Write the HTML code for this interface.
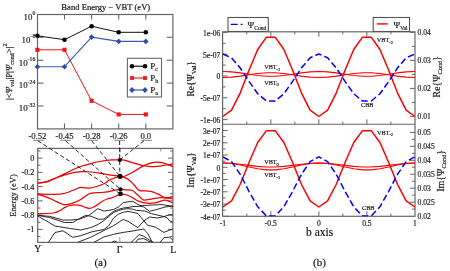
<!DOCTYPE html>
<html><head><meta charset="utf-8"><style>
html,body{margin:0;padding:0;background:#fff;}
svg{display:block;will-change:transform;} text{stroke:#222;stroke-width:0.18px;}
</style></head><body>
<svg width="450" height="271" viewBox="0 0 450 271">
<rect width="450" height="271" fill="#fff"/>
<rect x="37.5" y="14.5" width="135.40" height="114.40" fill="none" stroke="#666" stroke-width="1.2"/>
<line x1="64.50" y1="14.50" x2="64.50" y2="19.50" stroke="#666" stroke-width="1.1" />
<line x1="64.50" y1="128.90" x2="64.50" y2="123.40" stroke="#666" stroke-width="1.1" />
<line x1="91.60" y1="14.50" x2="91.60" y2="19.50" stroke="#666" stroke-width="1.1" />
<line x1="91.60" y1="128.90" x2="91.60" y2="123.40" stroke="#666" stroke-width="1.1" />
<line x1="118.70" y1="14.50" x2="118.70" y2="19.50" stroke="#666" stroke-width="1.1" />
<line x1="118.70" y1="128.90" x2="118.70" y2="123.40" stroke="#666" stroke-width="1.1" />
<line x1="145.80" y1="14.50" x2="145.80" y2="19.50" stroke="#666" stroke-width="1.1" />
<line x1="145.80" y1="128.90" x2="145.80" y2="123.40" stroke="#666" stroke-width="1.1" />
<line x1="37.50" y1="37.30" x2="43.50" y2="37.30" stroke="#666" stroke-width="1.1" />
<line x1="172.90" y1="37.30" x2="166.90" y2="37.30" stroke="#666" stroke-width="1.1" />
<line x1="37.50" y1="60.20" x2="43.50" y2="60.20" stroke="#666" stroke-width="1.1" />
<line x1="172.90" y1="60.20" x2="166.90" y2="60.20" stroke="#666" stroke-width="1.1" />
<line x1="37.50" y1="83.10" x2="43.50" y2="83.10" stroke="#666" stroke-width="1.1" />
<line x1="172.90" y1="83.10" x2="166.90" y2="83.10" stroke="#666" stroke-width="1.1" />
<line x1="37.50" y1="106.00" x2="43.50" y2="106.00" stroke="#666" stroke-width="1.1" />
<line x1="172.90" y1="106.00" x2="166.90" y2="106.00" stroke="#666" stroke-width="1.1" />
<text x="35.3" y="19.70" font-size="8.9" text-anchor="end" style="font-family:&quot;Liberation Serif&quot;,serif" fill="#222">10<tspan dy="-4.4" font-size="5.8">0</tspan></text>
<text x="35.3" y="42.60" font-size="8.9" text-anchor="end" style="font-family:&quot;Liberation Serif&quot;,serif" fill="#222">10<tspan dy="-4.4" font-size="5.8">-8</tspan></text>
<text x="35.3" y="65.50" font-size="8.9" text-anchor="end" style="font-family:&quot;Liberation Serif&quot;,serif" fill="#222">10<tspan dy="-4.4" font-size="5.8">-16</tspan></text>
<text x="35.3" y="88.40" font-size="8.9" text-anchor="end" style="font-family:&quot;Liberation Serif&quot;,serif" fill="#222">10<tspan dy="-4.4" font-size="5.8">-24</tspan></text>
<text x="35.3" y="111.30" font-size="8.9" text-anchor="end" style="font-family:&quot;Liberation Serif&quot;,serif" fill="#222">10<tspan dy="-4.4" font-size="5.8">-32</tspan></text>
<text x="105.80" y="10.20" font-size="8.6" text-anchor="middle" style="font-family:&quot;Liberation Serif&quot;,serif" fill="#111" >Band Energy &#8722; VBT (eV)</text>
<polyline points="37.40,49.80 64.50,49.80 91.60,100.80 118.70,114.40 145.80,114.40" fill="none" stroke="#f01414" stroke-width="1.0" stroke-linejoin="round" />
<polyline points="37.40,66.70 64.50,66.70 91.60,37.10 118.70,41.40 145.80,41.40" fill="none" stroke="#3a5bb0" stroke-width="1.1" stroke-linejoin="round" />
<polyline points="37.40,35.80 64.50,39.70 91.60,26.20 118.70,32.30 145.80,32.30" fill="none" stroke="#111" stroke-width="1.0" stroke-linejoin="round" />
<rect x="35.35" y="47.75" width="4.1" height="4.1" fill="#f01414"/>
<path d="M34.60,66.70 L37.40,63.90 L40.20,66.70 L37.40,69.50Z" fill="#2d4fae"/>
<circle cx="37.40" cy="35.80" r="2.3" fill="#000"/>
<rect x="62.45" y="47.75" width="4.1" height="4.1" fill="#f01414"/>
<path d="M61.70,66.70 L64.50,63.90 L67.30,66.70 L64.50,69.50Z" fill="#2d4fae"/>
<circle cx="64.50" cy="39.70" r="2.3" fill="#000"/>
<rect x="89.55" y="98.75" width="4.1" height="4.1" fill="#f01414"/>
<path d="M88.80,37.10 L91.60,34.30 L94.40,37.10 L91.60,39.90Z" fill="#2d4fae"/>
<circle cx="91.60" cy="26.20" r="2.3" fill="#000"/>
<rect x="116.65" y="112.35" width="4.1" height="4.1" fill="#f01414"/>
<path d="M115.90,41.40 L118.70,38.60 L121.50,41.40 L118.70,44.20Z" fill="#2d4fae"/>
<circle cx="118.70" cy="32.30" r="2.3" fill="#000"/>
<rect x="143.75" y="112.35" width="4.1" height="4.1" fill="#f01414"/>
<path d="M143.00,41.40 L145.80,38.60 L148.60,41.40 L145.80,44.20Z" fill="#2d4fae"/>
<circle cx="145.80" cy="32.30" r="2.3" fill="#000"/>
<rect x="127.4" y="58.3" width="34.1" height="38.7" fill="#fff" stroke="#6a6a6a" stroke-width="1.1"/>
<line x1="132.00" y1="66.20" x2="145.00" y2="66.20" stroke="#000" stroke-width="1.1" />
<circle cx="132" cy="66.2" r="2.3" fill="#000"/><circle cx="145" cy="66.2" r="2.3" fill="#000"/>
<text x="150.3" y="69.4" font-size="9" style="font-family:&quot;Liberation Serif&quot;,serif" fill="#111">P<tspan dy="2" font-size="6">c</tspan></text>
<line x1="132.00" y1="78.00" x2="145.00" y2="78.00" stroke="#f01414" stroke-width="1.1" />
<rect x="130.1" y="76.1" width="3.8" height="3.8" fill="#f01414"/><rect x="143.1" y="76.1" width="3.8" height="3.8" fill="#f01414"/>
<text x="150.3" y="81.2" font-size="9" style="font-family:&quot;Liberation Serif&quot;,serif" fill="#111">P<tspan dy="2" font-size="6">b</tspan></text>
<line x1="132.00" y1="90.00" x2="145.00" y2="90.00" stroke="#2d4fae" stroke-width="1.1" />
<path d="M129.1,90.0 L132,87.1 L134.9,90.0 L132,92.9Z" fill="#2d4fae"/>
<path d="M142.1,90.0 L145,87.1 L147.9,90.0 L145,92.9Z" fill="#2d4fae"/>
<text x="150.3" y="93.2" font-size="9" style="font-family:&quot;Liberation Serif&quot;,serif" fill="#111">P<tspan dy="2" font-size="6">a</tspan></text>
<text transform="translate(11.7,71.7) rotate(-90)" font-size="8.9" text-anchor="middle" style="font-family:&quot;Liberation Serif&quot;,serif" fill="#111">|&lt;<tspan font-style="italic">&#936;</tspan><tspan dy="2.3" font-size="6">val</tspan><tspan dy="-2.3">|P|</tspan><tspan font-style="italic">&#936;</tspan><tspan dy="2.3" font-size="6">cond</tspan><tspan dy="-2.3">&gt;|</tspan><tspan dy="-4.6" font-size="6">2</tspan></text>
<text x="37.40" y="139.20" font-size="8.6" text-anchor="middle" style="font-family:&quot;Liberation Serif&quot;,serif" fill="#222" >-0.52</text>
<line x1="33.10" y1="140.30" x2="43.70" y2="140.30" stroke="#777" stroke-width="0.9" />
<text x="64.50" y="139.20" font-size="8.6" text-anchor="middle" style="font-family:&quot;Liberation Serif&quot;,serif" fill="#222" >-0.45</text>
<line x1="60.20" y1="140.30" x2="70.80" y2="140.30" stroke="#777" stroke-width="0.9" />
<text x="91.60" y="139.20" font-size="8.6" text-anchor="middle" style="font-family:&quot;Liberation Serif&quot;,serif" fill="#222" >-0.28</text>
<line x1="87.30" y1="140.30" x2="97.90" y2="140.30" stroke="#777" stroke-width="0.9" />
<text x="118.70" y="139.20" font-size="8.6" text-anchor="middle" style="font-family:&quot;Liberation Serif&quot;,serif" fill="#222" >-0.26</text>
<line x1="114.40" y1="140.30" x2="125.00" y2="140.30" stroke="#777" stroke-width="0.9" />
<text x="145.80" y="139.20" font-size="8.6" text-anchor="middle" style="font-family:&quot;Liberation Serif&quot;,serif" fill="#222" >0.0</text>
<line x1="141.50" y1="140.30" x2="152.10" y2="140.30" stroke="#777" stroke-width="0.9" />
<rect x="37.7" y="148.4" width="135.20" height="94.00" fill="none" stroke="#666" stroke-width="1.2"/>
<line x1="37.70" y1="150.97" x2="40.50" y2="150.97" stroke="#666" stroke-width="1.0" />
<line x1="172.90" y1="150.97" x2="170.10" y2="150.97" stroke="#666" stroke-width="1.0" />
<line x1="37.70" y1="158.10" x2="42.70" y2="158.10" stroke="#666" stroke-width="1.0" />
<line x1="172.90" y1="158.10" x2="167.90" y2="158.10" stroke="#666" stroke-width="1.0" />
<line x1="37.70" y1="165.23" x2="40.50" y2="165.23" stroke="#666" stroke-width="1.0" />
<line x1="172.90" y1="165.23" x2="170.10" y2="165.23" stroke="#666" stroke-width="1.0" />
<line x1="37.70" y1="172.36" x2="42.70" y2="172.36" stroke="#666" stroke-width="1.0" />
<line x1="172.90" y1="172.36" x2="167.90" y2="172.36" stroke="#666" stroke-width="1.0" />
<line x1="37.70" y1="179.49" x2="40.50" y2="179.49" stroke="#666" stroke-width="1.0" />
<line x1="172.90" y1="179.49" x2="170.10" y2="179.49" stroke="#666" stroke-width="1.0" />
<line x1="37.70" y1="186.62" x2="42.70" y2="186.62" stroke="#666" stroke-width="1.0" />
<line x1="172.90" y1="186.62" x2="167.90" y2="186.62" stroke="#666" stroke-width="1.0" />
<line x1="37.70" y1="193.75" x2="40.50" y2="193.75" stroke="#666" stroke-width="1.0" />
<line x1="172.90" y1="193.75" x2="170.10" y2="193.75" stroke="#666" stroke-width="1.0" />
<line x1="37.70" y1="200.88" x2="42.70" y2="200.88" stroke="#666" stroke-width="1.0" />
<line x1="172.90" y1="200.88" x2="167.90" y2="200.88" stroke="#666" stroke-width="1.0" />
<line x1="37.70" y1="208.01" x2="40.50" y2="208.01" stroke="#666" stroke-width="1.0" />
<line x1="172.90" y1="208.01" x2="170.10" y2="208.01" stroke="#666" stroke-width="1.0" />
<line x1="37.70" y1="215.14" x2="42.70" y2="215.14" stroke="#666" stroke-width="1.0" />
<line x1="172.90" y1="215.14" x2="167.90" y2="215.14" stroke="#666" stroke-width="1.0" />
<line x1="37.70" y1="222.27" x2="40.50" y2="222.27" stroke="#666" stroke-width="1.0" />
<line x1="172.90" y1="222.27" x2="170.10" y2="222.27" stroke="#666" stroke-width="1.0" />
<line x1="37.70" y1="229.40" x2="42.70" y2="229.40" stroke="#666" stroke-width="1.0" />
<line x1="172.90" y1="229.40" x2="167.90" y2="229.40" stroke="#666" stroke-width="1.0" />
<line x1="37.70" y1="236.53" x2="40.50" y2="236.53" stroke="#666" stroke-width="1.0" />
<line x1="172.90" y1="236.53" x2="170.10" y2="236.53" stroke="#666" stroke-width="1.0" />
<line x1="120.00" y1="148.40" x2="120.00" y2="152.40" stroke="#666" stroke-width="1.0" />
<line x1="119.80" y1="242.40" x2="119.80" y2="236.80" stroke="#999" stroke-width="1.0" />
<line x1="160.90" y1="148.40" x2="160.90" y2="151.40" stroke="#666" stroke-width="0.8" />
<text x="34.40" y="161.10" font-size="8.2" text-anchor="end" style="font-family:&quot;Liberation Serif&quot;,serif" fill="#222" >0</text>
<text x="34.40" y="175.36" font-size="8.2" text-anchor="end" style="font-family:&quot;Liberation Serif&quot;,serif" fill="#222" >-0.2</text>
<text x="34.40" y="189.62" font-size="8.2" text-anchor="end" style="font-family:&quot;Liberation Serif&quot;,serif" fill="#222" >-0.4</text>
<text x="34.40" y="203.88" font-size="8.2" text-anchor="end" style="font-family:&quot;Liberation Serif&quot;,serif" fill="#222" >-0.6</text>
<text x="34.40" y="218.14" font-size="8.2" text-anchor="end" style="font-family:&quot;Liberation Serif&quot;,serif" fill="#222" >-0.8</text>
<text x="34.40" y="232.40" font-size="8.2" text-anchor="end" style="font-family:&quot;Liberation Serif&quot;,serif" fill="#222" >-1</text>
<text transform="translate(16.2,195.5) rotate(-90)" font-size="8.6" text-anchor="middle" style="font-family:&quot;Liberation Serif&quot;,serif" fill="#111">Energy (eV)</text>
<text x="37.70" y="252.40" font-size="9.8" text-anchor="middle" style="font-family:&quot;Liberation Serif&quot;,serif" fill="#111" >Y</text>
<text x="119.60" y="252.60" font-size="9.8" text-anchor="middle" style="font-family:&quot;Liberation Serif&quot;,serif" fill="#111" >&#915;</text>
<text x="173.30" y="252.50" font-size="9.8" text-anchor="middle" style="font-family:&quot;Liberation Serif&quot;,serif" fill="#111" >L</text>
<text x="100.50" y="265.60" font-size="11" text-anchor="middle" style="font-family:&quot;Liberation Serif&quot;,serif" fill="#111" >(a)</text>
<clipPath id="cbl"><rect x="37.7" y="148.4" width="135.2" height="94.0"/></clipPath>
<g clip-path="url(#cbl)">
<polyline points="37.70,215.30 49.50,216.30 63.30,220.10 71.00,220.00 79.20,219.30 89.00,215.40 97.60,208.70 104.00,211.00 108.80,210.40 113.60,209.40 118.40,207.00 123.20,202.70 128.00,201.80 132.80,201.30 136.60,203.70 140.00,205.50 142.80,205.50 152.40,205.00 162.00,204.60 172.90,206.30" fill="none" stroke="#2a2a2a" stroke-width="1.0" stroke-linejoin="round" />
<polyline points="37.70,215.30 49.50,217.50 64.60,222.50 72.70,222.50 79.20,218.70 85.70,215.40 90.60,216.20 98.70,219.30 104.00,219.00 108.80,215.20 113.60,211.40 118.40,209.40 123.20,208.00 128.00,207.50 132.80,206.60 140.00,206.30 143.80,207.00 149.50,211.30 157.20,209.40 164.90,207.00 172.90,206.00" fill="none" stroke="#2a2a2a" stroke-width="1.0" stroke-linejoin="round" />
<polyline points="37.70,216.00 46.70,221.10 54.90,226.00 69.50,228.40 80.80,230.00 90.60,227.60 98.00,224.50 104.00,220.50 108.80,216.40 113.60,212.50 118.40,210.60 123.20,209.20 128.00,208.70 132.80,209.20 136.60,210.40 140.00,210.60 144.70,211.00 151.40,213.70 162.00,216.10 166.80,217.50 169.70,220.90 172.90,222.30" fill="none" stroke="#2a2a2a" stroke-width="1.0" stroke-linejoin="round" />
<polyline points="48.40,242.40 54.90,232.50 63.00,230.80 72.70,237.30 80.80,235.70 92.20,231.70 104.00,229.50 108.80,225.70 113.60,218.00 118.40,214.20 123.20,212.30 128.00,211.40 132.80,212.30 138.00,213.50 143.80,220.90 147.60,225.20 155.30,227.10 163.90,232.40 168.70,230.50 172.90,229.00" fill="none" stroke="#2a2a2a" stroke-width="1.0" stroke-linejoin="round" />
<polyline points="77.60,242.40 90.60,237.30 104.00,230.50 113.60,225.70 123.20,219.40 129.00,221.80 134.70,225.70 138.00,227.60 143.80,220.90 149.50,217.00 157.20,218.00 163.90,216.60 169.70,214.60 172.90,215.00" fill="none" stroke="#2a2a2a" stroke-width="1.0" stroke-linejoin="round" />
<polyline points="93.80,242.40 104.00,236.90 113.60,234.30 123.20,232.40 132.80,231.00 138.00,230.00 143.80,229.00 147.60,233.40 152.40,242.40" fill="none" stroke="#2a2a2a" stroke-width="1.0" stroke-linejoin="round" />
<polyline points="130.90,242.40 135.70,238.20 139.00,234.60 143.80,236.20 149.50,240.10 153.40,242.40" fill="none" stroke="#2a2a2a" stroke-width="1.0" stroke-linejoin="round" />
<polyline points="135.70,242.40 138.00,239.10 143.80,238.60 147.60,240.60 151.40,242.40" fill="none" stroke="#2a2a2a" stroke-width="1.0" stroke-linejoin="round" />
<polyline points="160.10,242.40 163.90,237.70 169.70,237.20 172.90,240.10" fill="none" stroke="#2a2a2a" stroke-width="1.0" stroke-linejoin="round" />
<polyline points="111.20,242.60 114.60,241.00 117.80,242.60" fill="none" stroke="#2a2a2a" stroke-width="1.0" stroke-linejoin="round" />
<path d="M37.60,183.00 C39.17,182.77 43.50,182.63 47.00,181.60 C50.50,180.57 54.73,178.57 58.60,176.80 C62.47,175.03 66.30,172.80 70.20,171.00 C74.10,169.20 78.37,167.28 82.00,166.00 C85.63,164.72 89.00,164.05 92.00,163.30 C95.00,162.55 96.72,162.07 100.00,161.50 C103.28,160.93 108.42,160.15 111.70,159.90 C114.98,159.65 117.65,159.95 119.70,160.00 C121.75,160.05 121.80,159.73 124.00,160.20 C126.20,160.67 129.93,161.93 132.90,162.80 C135.87,163.67 139.22,164.82 141.80,165.40 C144.38,165.98 145.82,166.13 148.40,166.30 C150.98,166.47 154.33,166.62 157.30,166.40 C160.27,166.18 163.60,165.42 166.20,165.00 C168.80,164.58 171.78,164.08 172.90,163.90" fill="none" stroke="#f00000" stroke-width="1.25" stroke-linejoin="round" />
<path d="M37.60,183.00 C39.17,182.77 43.50,182.63 47.00,181.60 C50.50,180.57 54.73,178.18 58.60,176.80 C62.47,175.42 66.30,174.17 70.20,173.30 C74.10,172.43 78.37,171.82 82.00,171.60 C85.63,171.38 88.58,171.65 92.00,172.00 C95.42,172.35 99.33,173.17 102.50,173.70 C105.67,174.23 108.08,174.77 111.00,175.20 C113.92,175.63 117.83,176.08 120.00,176.30 C122.17,176.52 122.22,177.00 124.00,176.50 C125.78,176.00 128.48,174.48 130.70,173.30 C132.92,172.12 135.08,170.68 137.30,169.40 C139.52,168.12 141.77,166.65 144.00,165.60 C146.23,164.55 148.48,163.67 150.70,163.10 C152.92,162.53 155.08,162.20 157.30,162.20 C159.52,162.20 161.40,162.35 164.00,163.10 C166.60,163.85 171.42,166.10 172.90,166.70" fill="none" stroke="#f00000" stroke-width="1.25" stroke-linejoin="round" />
<path d="M37.60,194.20 C39.67,194.22 45.95,194.35 50.00,194.30 C54.05,194.25 58.53,194.37 61.90,193.90 C65.27,193.43 67.85,192.32 70.20,191.50 C72.55,190.68 74.17,189.68 76.00,189.00 C77.83,188.32 79.03,187.53 81.20,187.40 C83.37,187.27 86.43,188.35 89.00,188.20 C91.57,188.05 93.93,187.33 96.60,186.50 C99.27,185.67 102.77,184.32 105.00,183.20 C107.23,182.08 107.57,180.93 110.00,179.80 C112.43,178.67 117.27,176.80 119.60,176.40 C121.93,176.00 122.42,176.80 124.00,177.40 C125.58,178.00 127.33,178.65 129.10,180.00 C130.87,181.35 132.95,183.78 134.60,185.50 C136.25,187.22 136.77,189.37 139.00,190.30 C141.23,191.23 145.75,190.83 148.00,191.10 C150.25,191.37 150.70,191.35 152.50,191.90 C154.30,192.45 156.92,193.48 158.80,194.40 C160.68,195.32 162.12,196.87 163.80,197.40 C165.48,197.93 167.42,197.78 168.90,197.60 C170.38,197.42 172.07,196.52 172.70,196.30" fill="none" stroke="#f00000" stroke-width="1.25" stroke-linejoin="round" />
<path d="M37.60,194.30 C38.83,194.68 42.40,195.65 45.00,196.60 C47.60,197.55 50.70,198.90 53.20,200.00 C55.70,201.10 58.10,202.43 60.00,203.20 C61.90,203.97 62.60,204.58 64.60,204.60 C66.60,204.62 69.30,204.15 72.00,203.30 C74.70,202.45 78.08,201.02 80.80,199.50 C83.52,197.98 85.93,195.32 88.30,194.20 C90.67,193.08 92.78,193.08 95.00,192.80 C97.22,192.52 99.10,192.75 101.60,192.50 C104.10,192.25 106.88,191.83 110.00,191.30 C113.12,190.77 117.63,189.55 120.30,189.30 C122.97,189.05 123.98,189.60 126.00,189.80 C128.02,190.00 130.60,189.77 132.40,190.50 C134.20,191.23 135.53,193.13 136.80,194.20 C138.07,195.27 138.83,195.92 140.00,196.90 C141.17,197.88 141.72,199.78 143.80,200.10 C145.88,200.42 149.58,199.22 152.50,198.80 C155.42,198.38 158.57,197.70 161.30,197.60 C164.03,197.50 167.00,198.00 168.90,198.20 C170.80,198.40 172.07,198.70 172.70,198.80" fill="none" stroke="#f00000" stroke-width="1.25" stroke-linejoin="round" />
<path d="M37.60,213.60 C40.20,213.50 49.47,213.52 53.20,213.00 C56.93,212.48 58.10,211.40 60.00,210.50 C61.90,209.60 62.93,208.43 64.60,207.60 C66.27,206.77 68.10,205.95 70.00,205.50 C71.90,205.05 74.20,204.87 76.00,204.90 C77.80,204.93 78.63,205.13 80.80,205.70 C82.97,206.27 86.63,208.20 89.00,208.30 C91.37,208.40 92.90,207.38 95.00,206.30 C97.10,205.22 99.60,203.02 101.60,201.80 C103.60,200.58 105.07,199.75 107.00,199.00 C108.93,198.25 110.98,198.08 113.20,197.30 C115.42,196.52 118.02,194.68 120.30,194.30 C122.58,193.92 124.88,194.43 126.90,195.00 C128.92,195.57 130.38,196.63 132.40,197.70 C134.42,198.77 136.48,200.48 139.00,201.40 C141.52,202.32 144.62,203.00 147.50,203.20 C150.38,203.40 153.37,203.12 156.30,202.60 C159.23,202.08 162.37,200.03 165.10,200.10 C167.83,200.17 171.43,202.52 172.70,203.00" fill="none" stroke="#f00000" stroke-width="1.25" stroke-linejoin="round" />
</g>
<circle cx="119.7" cy="160.0" r="2.1" fill="#000"/>
<circle cx="120.0" cy="176.3" r="2.6" fill="#000"/>
<circle cx="120.5" cy="189.4" r="2.1" fill="#000"/>
<circle cx="120.5" cy="193.9" r="2.3" fill="#000"/>
<line x1="37.80" y1="140.80" x2="120.50" y2="193.90" stroke="#111" stroke-width="0.9" stroke-dasharray="4.2,2.5"/>
<line x1="65.60" y1="140.80" x2="120.50" y2="189.40" stroke="#111" stroke-width="0.9" stroke-dasharray="4.2,2.5"/>
<line x1="91.70" y1="140.80" x2="120.00" y2="176.30" stroke="#111" stroke-width="0.9" stroke-dasharray="4.2,2.5"/>
<line x1="119.60" y1="140.80" x2="119.80" y2="176.30" stroke="#111" stroke-width="0.9" stroke-dasharray="4.2,2.5"/>
<line x1="144.00" y1="140.80" x2="119.70" y2="160.00" stroke="#111" stroke-width="0.9" stroke-dasharray="4.2,2.5"/>
<rect x="222.6" y="31.8" width="192.40" height="184.50" fill="none" stroke="#666" stroke-width="1.2"/>
<line x1="222.60" y1="124.30" x2="415.00" y2="124.30" stroke="#666" stroke-width="1.1" />
<line x1="246.81" y1="31.80" x2="246.81" y2="34.40" stroke="#666" stroke-width="1.0" />
<line x1="246.81" y1="124.30" x2="246.81" y2="121.70" stroke="#666" stroke-width="1.0" />
<line x1="246.81" y1="216.30" x2="246.81" y2="213.70" stroke="#666" stroke-width="1.0" />
<line x1="270.83" y1="31.80" x2="270.83" y2="36.80" stroke="#666" stroke-width="1.0" />
<line x1="270.83" y1="124.30" x2="270.83" y2="119.30" stroke="#666" stroke-width="1.0" />
<line x1="270.83" y1="216.30" x2="270.83" y2="211.30" stroke="#666" stroke-width="1.0" />
<line x1="294.84" y1="31.80" x2="294.84" y2="34.40" stroke="#666" stroke-width="1.0" />
<line x1="294.84" y1="124.30" x2="294.84" y2="121.70" stroke="#666" stroke-width="1.0" />
<line x1="294.84" y1="216.30" x2="294.84" y2="213.70" stroke="#666" stroke-width="1.0" />
<line x1="318.85" y1="31.80" x2="318.85" y2="36.80" stroke="#666" stroke-width="1.0" />
<line x1="318.85" y1="124.30" x2="318.85" y2="119.30" stroke="#666" stroke-width="1.0" />
<line x1="318.85" y1="216.30" x2="318.85" y2="211.30" stroke="#666" stroke-width="1.0" />
<line x1="342.86" y1="31.80" x2="342.86" y2="34.40" stroke="#666" stroke-width="1.0" />
<line x1="342.86" y1="124.30" x2="342.86" y2="121.70" stroke="#666" stroke-width="1.0" />
<line x1="342.86" y1="216.30" x2="342.86" y2="213.70" stroke="#666" stroke-width="1.0" />
<line x1="366.88" y1="31.80" x2="366.88" y2="36.80" stroke="#666" stroke-width="1.0" />
<line x1="366.88" y1="124.30" x2="366.88" y2="119.30" stroke="#666" stroke-width="1.0" />
<line x1="366.88" y1="216.30" x2="366.88" y2="211.30" stroke="#666" stroke-width="1.0" />
<line x1="390.89" y1="31.80" x2="390.89" y2="34.40" stroke="#666" stroke-width="1.0" />
<line x1="390.89" y1="124.30" x2="390.89" y2="121.70" stroke="#666" stroke-width="1.0" />
<line x1="390.89" y1="216.30" x2="390.89" y2="213.70" stroke="#666" stroke-width="1.0" />
<line x1="222.60" y1="119.60" x2="227.60" y2="119.60" stroke="#666" stroke-width="1.0" />
<line x1="222.60" y1="108.70" x2="225.60" y2="108.70" stroke="#666" stroke-width="1.0" />
<line x1="222.60" y1="97.80" x2="227.60" y2="97.80" stroke="#666" stroke-width="1.0" />
<line x1="222.60" y1="86.90" x2="225.60" y2="86.90" stroke="#666" stroke-width="1.0" />
<line x1="222.60" y1="76.00" x2="227.60" y2="76.00" stroke="#666" stroke-width="1.0" />
<line x1="222.60" y1="65.10" x2="225.60" y2="65.10" stroke="#666" stroke-width="1.0" />
<line x1="222.60" y1="54.20" x2="227.60" y2="54.20" stroke="#666" stroke-width="1.0" />
<line x1="222.60" y1="43.30" x2="225.60" y2="43.30" stroke="#666" stroke-width="1.0" />
<line x1="222.60" y1="32.40" x2="227.60" y2="32.40" stroke="#666" stroke-width="1.0" />
<text x="220.30" y="35.70" font-size="7.6" text-anchor="end" style="font-family:&quot;Liberation Serif&quot;,serif" fill="#222" >1e-06</text>
<text x="220.30" y="57.50" font-size="7.6" text-anchor="end" style="font-family:&quot;Liberation Serif&quot;,serif" fill="#222" >5e-07</text>
<text x="220.30" y="79.30" font-size="7.6" text-anchor="end" style="font-family:&quot;Liberation Serif&quot;,serif" fill="#222" >0</text>
<text x="220.30" y="101.10" font-size="7.6" text-anchor="end" style="font-family:&quot;Liberation Serif&quot;,serif" fill="#222" >-5e-07</text>
<text x="220.30" y="122.90" font-size="7.6" text-anchor="end" style="font-family:&quot;Liberation Serif&quot;,serif" fill="#222" >-1e-06</text>
<line x1="415.00" y1="32.40" x2="410.00" y2="32.40" stroke="#666" stroke-width="1.0" />
<line x1="415.00" y1="46.40" x2="412.00" y2="46.40" stroke="#666" stroke-width="1.0" />
<line x1="415.00" y1="60.40" x2="410.00" y2="60.40" stroke="#666" stroke-width="1.0" />
<line x1="415.00" y1="74.40" x2="412.00" y2="74.40" stroke="#666" stroke-width="1.0" />
<line x1="415.00" y1="88.40" x2="410.00" y2="88.40" stroke="#666" stroke-width="1.0" />
<line x1="415.00" y1="102.40" x2="412.00" y2="102.40" stroke="#666" stroke-width="1.0" />
<line x1="415.00" y1="116.40" x2="410.00" y2="116.40" stroke="#666" stroke-width="1.0" />
<text x="417.60" y="35.30" font-size="7.6" text-anchor="start" style="font-family:&quot;Liberation Serif&quot;,serif" fill="#222" >0.04</text>
<text x="417.60" y="63.30" font-size="7.6" text-anchor="start" style="font-family:&quot;Liberation Serif&quot;,serif" fill="#222" >0.03</text>
<text x="417.60" y="91.30" font-size="7.6" text-anchor="start" style="font-family:&quot;Liberation Serif&quot;,serif" fill="#222" >0.02</text>
<text x="417.60" y="119.30" font-size="7.6" text-anchor="start" style="font-family:&quot;Liberation Serif&quot;,serif" fill="#222" >0.01</text>
<line x1="222.60" y1="216.30" x2="227.60" y2="216.30" stroke="#666" stroke-width="1.0" />
<line x1="222.60" y1="210.18" x2="225.60" y2="210.18" stroke="#666" stroke-width="1.0" />
<line x1="222.60" y1="204.05" x2="227.60" y2="204.05" stroke="#666" stroke-width="1.0" />
<line x1="222.60" y1="197.93" x2="225.60" y2="197.93" stroke="#666" stroke-width="1.0" />
<line x1="222.60" y1="191.80" x2="227.60" y2="191.80" stroke="#666" stroke-width="1.0" />
<line x1="222.60" y1="185.68" x2="225.60" y2="185.68" stroke="#666" stroke-width="1.0" />
<line x1="222.60" y1="179.55" x2="227.60" y2="179.55" stroke="#666" stroke-width="1.0" />
<line x1="222.60" y1="173.43" x2="225.60" y2="173.43" stroke="#666" stroke-width="1.0" />
<line x1="222.60" y1="167.30" x2="227.60" y2="167.30" stroke="#666" stroke-width="1.0" />
<line x1="222.60" y1="161.18" x2="225.60" y2="161.18" stroke="#666" stroke-width="1.0" />
<line x1="222.60" y1="155.05" x2="227.60" y2="155.05" stroke="#666" stroke-width="1.0" />
<line x1="222.60" y1="148.93" x2="225.60" y2="148.93" stroke="#666" stroke-width="1.0" />
<line x1="222.60" y1="142.80" x2="227.60" y2="142.80" stroke="#666" stroke-width="1.0" />
<line x1="222.60" y1="136.68" x2="225.60" y2="136.68" stroke="#666" stroke-width="1.0" />
<line x1="222.60" y1="130.55" x2="227.60" y2="130.55" stroke="#666" stroke-width="1.0" />
<text x="220.30" y="133.85" font-size="7.6" text-anchor="end" style="font-family:&quot;Liberation Serif&quot;,serif" fill="#222" >3e-07</text>
<text x="220.30" y="146.10" font-size="7.6" text-anchor="end" style="font-family:&quot;Liberation Serif&quot;,serif" fill="#222" >2e-07</text>
<text x="220.30" y="158.35" font-size="7.6" text-anchor="end" style="font-family:&quot;Liberation Serif&quot;,serif" fill="#222" >1e-07</text>
<text x="220.30" y="170.60" font-size="7.6" text-anchor="end" style="font-family:&quot;Liberation Serif&quot;,serif" fill="#222" >0</text>
<text x="220.30" y="182.85" font-size="7.6" text-anchor="end" style="font-family:&quot;Liberation Serif&quot;,serif" fill="#222" >-1e-07</text>
<text x="220.30" y="195.10" font-size="7.6" text-anchor="end" style="font-family:&quot;Liberation Serif&quot;,serif" fill="#222" >-2e-07</text>
<text x="220.30" y="207.35" font-size="7.6" text-anchor="end" style="font-family:&quot;Liberation Serif&quot;,serif" fill="#222" >-3e-07</text>
<text x="220.30" y="219.60" font-size="7.6" text-anchor="end" style="font-family:&quot;Liberation Serif&quot;,serif" fill="#222" >-4e-07</text>
<line x1="415.00" y1="132.40" x2="410.00" y2="132.40" stroke="#666" stroke-width="1.0" />
<line x1="415.00" y1="139.38" x2="412.00" y2="139.38" stroke="#666" stroke-width="1.0" />
<line x1="415.00" y1="146.35" x2="410.00" y2="146.35" stroke="#666" stroke-width="1.0" />
<line x1="415.00" y1="153.32" x2="412.00" y2="153.32" stroke="#666" stroke-width="1.0" />
<line x1="415.00" y1="160.30" x2="410.00" y2="160.30" stroke="#666" stroke-width="1.0" />
<line x1="415.00" y1="167.28" x2="412.00" y2="167.28" stroke="#666" stroke-width="1.0" />
<line x1="415.00" y1="174.25" x2="410.00" y2="174.25" stroke="#666" stroke-width="1.0" />
<line x1="415.00" y1="181.22" x2="412.00" y2="181.22" stroke="#666" stroke-width="1.0" />
<line x1="415.00" y1="188.20" x2="410.00" y2="188.20" stroke="#666" stroke-width="1.0" />
<line x1="415.00" y1="195.18" x2="412.00" y2="195.18" stroke="#666" stroke-width="1.0" />
<line x1="415.00" y1="202.15" x2="410.00" y2="202.15" stroke="#666" stroke-width="1.0" />
<line x1="415.00" y1="209.12" x2="412.00" y2="209.12" stroke="#666" stroke-width="1.0" />
<text x="417.60" y="135.30" font-size="7.6" text-anchor="start" style="font-family:&quot;Liberation Serif&quot;,serif" fill="#222" >0.05</text>
<text x="417.60" y="149.25" font-size="7.6" text-anchor="start" style="font-family:&quot;Liberation Serif&quot;,serif" fill="#222" >0.045</text>
<text x="417.60" y="163.20" font-size="7.6" text-anchor="start" style="font-family:&quot;Liberation Serif&quot;,serif" fill="#222" >0.04</text>
<text x="417.60" y="177.15" font-size="7.6" text-anchor="start" style="font-family:&quot;Liberation Serif&quot;,serif" fill="#222" >0.035</text>
<text x="417.60" y="191.10" font-size="7.6" text-anchor="start" style="font-family:&quot;Liberation Serif&quot;,serif" fill="#222" >0.03</text>
<text x="417.60" y="205.05" font-size="7.6" text-anchor="start" style="font-family:&quot;Liberation Serif&quot;,serif" fill="#222" >0.025</text>
<text x="417.60" y="219.00" font-size="7.6" text-anchor="start" style="font-family:&quot;Liberation Serif&quot;,serif" fill="#222" >0.02</text>
<text x="222.80" y="225.80" font-size="7.6" text-anchor="middle" style="font-family:&quot;Liberation Serif&quot;,serif" fill="#222" >-1</text>
<text x="270.83" y="225.80" font-size="7.6" text-anchor="middle" style="font-family:&quot;Liberation Serif&quot;,serif" fill="#222" >-0.5</text>
<text x="318.85" y="225.80" font-size="7.6" text-anchor="middle" style="font-family:&quot;Liberation Serif&quot;,serif" fill="#222" >0</text>
<text x="366.88" y="225.80" font-size="7.6" text-anchor="middle" style="font-family:&quot;Liberation Serif&quot;,serif" fill="#222" >0.5</text>
<text x="414.90" y="225.80" font-size="7.6" text-anchor="middle" style="font-family:&quot;Liberation Serif&quot;,serif" fill="#222" >1</text>
<text x="319.70" y="235.50" font-size="11.5" text-anchor="middle" style="font-family:&quot;Liberation Serif&quot;,serif" fill="#111" >b axis</text>
<text x="319.50" y="265.50" font-size="11" text-anchor="middle" style="font-family:&quot;Liberation Serif&quot;,serif" fill="#111" >(b)</text>
<text transform="translate(193.6,78.8) rotate(-90)" font-size="9.6" text-anchor="middle" style="font-family:&quot;Liberation Serif&quot;,serif" fill="#111">Re{&#936;<tspan dy="2.2" font-size="6.4">Val</tspan><tspan dy="-2.2">}</tspan></text>
<text transform="translate(193.6,170) rotate(-90)" font-size="9.6" text-anchor="middle" style="font-family:&quot;Liberation Serif&quot;,serif" fill="#111">Im{&#936;<tspan dy="2.2" font-size="6.4">Val</tspan><tspan dy="-2.2">}</tspan></text>
<text transform="translate(440.0,76.7) rotate(-90)" font-size="9.8" text-anchor="middle" style="font-family:&quot;Liberation Serif&quot;,serif" fill="#111">Re{&#936;<tspan dy="2.2" font-size="6.4">Cond</tspan><tspan dy="-2.2">}</tspan></text>
<text transform="translate(443.8,170.8) rotate(-90)" font-size="10" text-anchor="middle" style="font-family:&quot;Liberation Serif&quot;,serif" fill="#111">Im{&#936;<tspan dy="2.2" font-size="6.4">Cond</tspan><tspan dy="-2.2">}</tspan></text>
<rect x="228.0" y="17.5" width="40.3" height="14.0" fill="#fff" stroke="#555" stroke-width="1.1"/>
<line x1="230.70" y1="24.40" x2="242.60" y2="24.40" stroke="#0000ff" stroke-width="1.4" stroke-dasharray="7,3"/>
<text x="247.6" y="27.6" font-size="9" style="font-family:&quot;Liberation Serif&quot;,serif" fill="#111">&#936;<tspan dy="2.2" font-size="5.5">Cond</tspan></text>
<rect x="373.2" y="17.5" width="36.3" height="14.0" fill="#fff" stroke="#555" stroke-width="1.1"/>
<line x1="376.80" y1="23.90" x2="387.80" y2="23.90" stroke="#ff0000" stroke-width="1.4" />
<text x="393.6" y="27.6" font-size="9" style="font-family:&quot;Liberation Serif&quot;,serif" fill="#111">&#936;<tspan dy="2.2" font-size="5.5">Val</tspan></text>
<clipPath id="ct"><rect x="222.6" y="31.8" width="192.4" height="92.5"/></clipPath>
<clipPath id="cb"><rect x="222.6" y="124.3" width="192.4" height="92.00000000000001"/></clipPath>
<polyline points="222.80,71.50 231.53,71.88 240.26,72.90 249.00,74.24 257.73,75.47 266.46,76.20 275.19,76.20 283.92,75.47 292.65,74.24 301.39,72.90 310.12,71.88 318.85,71.50 327.58,71.88 336.31,72.90 345.05,74.24 353.78,75.47 362.51,76.20 371.24,76.20 379.97,75.47 388.70,74.24 397.44,72.90 406.17,71.88 414.90,71.50" fill="none" stroke="#ff0000" stroke-width="1.1" stroke-linejoin="round" clip-path="url(#ct)"/>
<polyline points="222.80,77.50 231.53,77.12 240.26,76.10 249.00,74.76 257.73,73.53 266.46,72.80 275.19,72.80 283.92,73.53 292.65,74.76 301.39,76.10 310.12,77.12 318.85,77.50 327.58,77.12 336.31,76.10 345.05,74.76 353.78,73.53 362.51,72.80 371.24,72.80 379.97,73.53 388.70,74.76 397.44,76.10 406.17,77.12 414.90,77.50" fill="none" stroke="#ff0000" stroke-width="1.1" stroke-linejoin="round" clip-path="url(#ct)"/>
<polyline points="222.80,116.50 231.53,110.07 240.26,92.82 249.00,70.24 257.73,49.48 266.46,37.14 275.19,37.14 283.92,49.48 292.65,70.24 301.39,92.82 310.12,110.07 318.85,116.50 327.58,110.07 336.31,92.82 345.05,70.24 353.78,49.48 362.51,37.14 371.24,37.14 379.97,49.48 388.70,70.24 397.44,92.82 406.17,110.07 414.90,116.50" fill="none" stroke="#ff0000" stroke-width="1.5" stroke-linejoin="round" clip-path="url(#ct)"/>
<polyline points="222.80,54.00 231.53,57.81 240.26,68.03 249.00,81.42 257.73,93.72 266.46,101.03 275.19,101.03 283.92,93.72 292.65,81.42 301.39,68.03 310.12,57.81 318.85,54.00 327.58,57.81 336.31,68.03 345.05,81.42 353.78,93.72 362.51,101.03 371.24,101.03 379.97,93.72 388.70,81.42 397.44,68.03 406.17,57.81 414.90,54.00" fill="none" stroke="#0000ff" stroke-width="1.5" stroke-linejoin="round" stroke-dasharray="6.6,3.1" clip-path="url(#ct)"/>
<polyline points="222.80,163.00 231.53,163.33 240.26,164.20 249.00,165.34 257.73,166.39 266.46,167.02 275.19,167.02 283.92,166.39 292.65,165.34 301.39,164.20 310.12,163.33 318.85,163.00 327.58,163.33 336.31,164.20 345.05,165.34 353.78,166.39 362.51,167.02 371.24,167.02 379.97,166.39 388.70,165.34 397.44,164.20 406.17,163.33 414.90,163.00" fill="none" stroke="#ff0000" stroke-width="1.1" stroke-linejoin="round" clip-path="url(#cb)"/>
<polyline points="222.80,163.00 231.53,163.56 240.26,165.05 249.00,167.00 257.73,168.79 266.46,169.86 275.19,169.86 283.92,168.79 292.65,167.00 301.39,165.05 310.12,163.56 318.85,163.00 327.58,163.56 336.31,165.05 345.05,167.00 353.78,168.79 362.51,169.86 371.24,169.86 379.97,168.79 388.70,167.00 397.44,165.05 406.17,163.56 414.90,163.00" fill="none" stroke="#ff0000" stroke-width="1.1" stroke-linejoin="round" clip-path="url(#cb)"/>
<polyline points="222.80,207.00 231.53,200.82 240.26,184.23 249.00,162.51 257.73,142.54 266.46,130.68 275.19,130.68 283.92,142.54 292.65,162.51 301.39,184.23 310.12,200.82 318.85,207.00 327.58,200.82 336.31,184.23 345.05,162.51 353.78,142.54 362.51,130.68 371.24,130.68 379.97,142.54 388.70,162.51 397.44,184.23 406.17,200.82 414.90,207.00" fill="none" stroke="#ff0000" stroke-width="1.5" stroke-linejoin="round" clip-path="url(#cb)"/>
<polyline points="222.80,156.80 231.53,161.59 240.26,174.45 249.00,191.30 257.73,206.78 266.46,215.98 275.19,215.98 283.92,206.78 292.65,191.30 301.39,174.45 310.12,161.59 318.85,156.80 327.58,161.59 336.31,174.45 345.05,191.30 353.78,206.78 362.51,215.98 371.24,215.98 379.97,206.78 388.70,191.30 397.44,174.45 406.17,161.59 414.90,156.80" fill="none" stroke="#0000ff" stroke-width="1.5" stroke-linejoin="round" stroke-dasharray="6.6,3.1" clip-path="url(#cb)"/>
<text x="376.8" y="42.0" font-size="6.2" style="font-family:&quot;Liberation Serif&quot;,serif" fill="#111">VBT<tspan dy="1.6" font-size="4.4">-2</tspan></text>
<text x="264.2" y="69.0" font-size="6.2" style="font-family:&quot;Liberation Serif&quot;,serif" fill="#111">VBT<tspan dy="1.6" font-size="4.4">-1</tspan></text>
<text x="264.2" y="84.6" font-size="6.2" style="font-family:&quot;Liberation Serif&quot;,serif" fill="#111">VBT<tspan dy="1.6" font-size="4.4">0</tspan></text>
<text x="377.0" y="134.6" font-size="6.2" style="font-family:&quot;Liberation Serif&quot;,serif" fill="#111">VBT<tspan dy="1.6" font-size="4.4">-2</tspan></text>
<text x="264.2" y="164.4" font-size="6.2" style="font-family:&quot;Liberation Serif&quot;,serif" fill="#111">VBT<tspan dy="1.6" font-size="4.4">0</tspan></text>
<text x="264.2" y="177.0" font-size="6.2" style="font-family:&quot;Liberation Serif&quot;,serif" fill="#111">VBT<tspan dy="1.6" font-size="4.4">-1</tspan></text>
<text x="367.20" y="107.20" font-size="6.2" text-anchor="middle" style="font-family:&quot;Liberation Serif&quot;,serif" fill="#111" >CBB</text>
<text x="368.30" y="209.80" font-size="6.2" text-anchor="middle" style="font-family:&quot;Liberation Serif&quot;,serif" fill="#111" >CBB</text>
</svg></body></html>
